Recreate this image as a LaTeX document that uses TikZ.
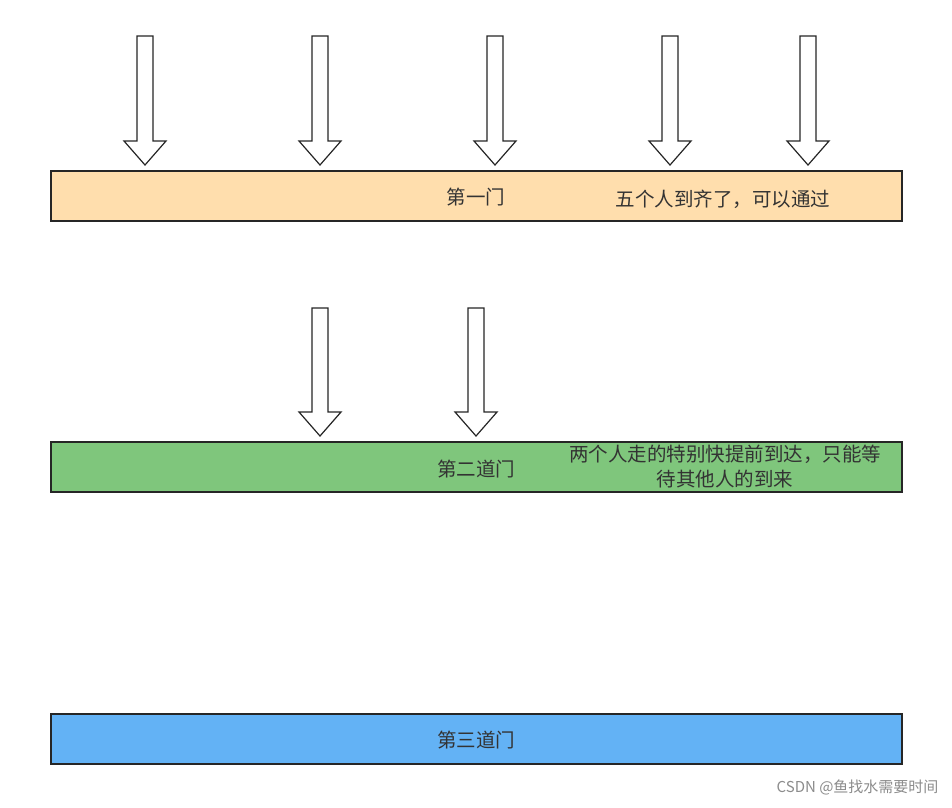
\documentclass[tikz,border=0pt]{standalone}
\usepackage{fontspec}
\setmainfont{Liberation Sans}
\newfontfamily\cjk{Noto Sans CJK SC}
\begin{document}
\begin{tikzpicture}[x=1pt,y=-1pt,
  bar/.style={draw=black!85,line width=1.3pt},
  lbl/.style={font=\cjk\fontsize{19.5}{22}\selectfont,text=black!80},
  dn/.style={draw=black!85,line width=1.2pt,fill=white}]
\useasboundingbox (0,0) rectangle (952,807);
\newcommand{\dnarrow}[4]{% name, x, ytop, ybottom
  \draw[dn] (#2-8,#3) -- (#2+8,#3) -- (#2+8,#4-24) -- (#2+21,#4-24) -- (#2,#4) -- (#2-21,#4-24) -- (#2-8,#4-24) -- cycle;
  \coordinate (#1) at (#2,#4);}
\fill[white] (0,0) rectangle (952,807);
\draw[bar,fill={rgb,255:red,255;green,222;blue,173}] (51,171) rectangle (902,221);
\draw[bar,fill={rgb,255:red,127;green,198;blue,124}] (51,442) rectangle (902,492);
\draw[bar,fill={rgb,255:red,99;green,178;blue,245}] (51,714) rectangle (902,764);
\node[lbl] (g1) at (476,197) {第一门};
\node[lbl] (t1) at (723,199) {五个人到齐了，可以通过};
\node[lbl] (g2) at (476,469) {第二道门};
\node[lbl,align=center,font=\cjk\fontsize{19.5}{25}\selectfont] (t2) at (725,467) {两个人走的特别快提前到达，只能等\\待其他人的到来};
\node[lbl] (g3) at (476,740) {第三道门};
\dnarrow{a1}{145}{36}{165}
\dnarrow{a2}{320}{36}{165}
\dnarrow{a3}{495}{36}{165}
\dnarrow{a4}{670}{36}{165}
\dnarrow{a5}{808}{36}{165}
\dnarrow{b1}{320}{308}{436}
\dnarrow{b2}{476}{308}{436}
\node[font=\cjk\fontsize{15}{17}\selectfont,text=black!45,anchor=east] (wm) at (942,787) {CSDN @鱼找水需要时间};
\end{tikzpicture}
\end{document}
